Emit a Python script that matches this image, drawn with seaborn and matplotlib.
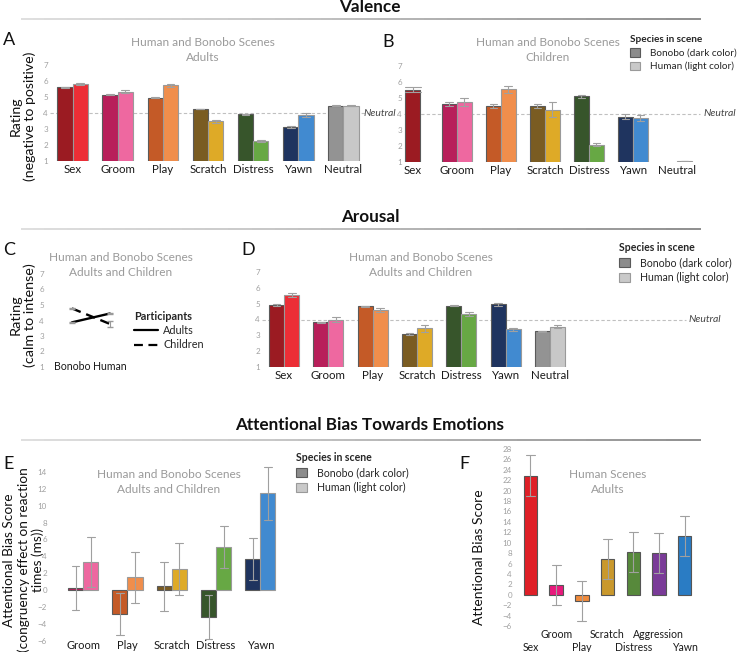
import numpy as np
import pandas as pd
import matplotlib
matplotlib.use("Agg")
import matplotlib.pyplot as plt
import seaborn as sns
from matplotlib.patches import Patch
from matplotlib.lines import Line2D
from matplotlib.collections import LineCollection

nan = np.nan
# ---------------- data ----------------
categories = ['Sex', 'Groom', 'Play', 'Scratch', 'Distress', 'Yawn', 'Neutral']
species = ['Bonobo', 'Human']

# A: valence, adults
val_ad_bonobo = [5.61, 5.15, 4.96, 4.25, 3.93, 3.12, 4.46]
val_ad_human = [5.80, 5.32, 5.74, 3.49, 2.25, 3.88, 4.46]
val_ad_bonobo_err = [0.03, 0.03, 0.03, 0.03, 0.03, 0.05, 0.02]
val_ad_human_err = [0.08, 0.10, 0.10, 0.10, 0.04, 0.10, 0.02]

# B: valence, children
val_ch_bonobo = [5.52, 4.63, 4.48, 4.52, 5.10, 3.82, nan]
val_ch_human = [nan, 4.74, 5.56, 4.28, 2.09, 3.74, 1.07]
val_ch_bonobo_err = [0.15, 0.12, 0.12, 0.12, 0.10, 0.15, 0.0]
val_ch_human_err = [0.0, 0.25, 0.22, 0.45, 0.12, 0.20, 0.0]

# C: arousal by participants
scene_species = ['Bonobo', 'Human']
participants = ['Adults', 'Children']
aro_adults = [3.88, 4.45]
aro_children = [4.78, 3.78]
aro_adults_err = [0.03, 0.06]
aro_children_err = [0.05, 0.22]

# D: arousal, adults and children
aro_bonobo = [4.90, 3.82, 4.83, 3.07, 4.87, 4.95, 3.25]
aro_human = [5.53, 4.00, 4.62, 3.46, 4.33, 3.37, 3.55]
aro_bonobo_err = [0.07, 0.05, 0.05, 0.05, 0.04, 0.10, 0.04]
aro_human_err = [0.14, 0.15, 0.12, 0.22, 0.12, 0.10, 0.08]

# E: attentional bias, human and bonobo scenes
att_categories = ['Groom', 'Play', 'Scratch', 'Distress', 'Yawn']
att_bonobo = [0.24, -2.85, 0.47, -3.16, 3.70]
att_human = [3.31, 1.50, 2.53, 5.14, 11.46]
att_bonobo_err = [2.6, 2.5, 2.9, 2.6, 2.5]
att_human_err = [3.0, 3.0, 3.1, 2.5, 3.1]

# F: attentional bias, human scenes
f_categories = ['Sex', 'Groom', 'Play', 'Scratch', 'Distress', 'Aggression', 'Yawn']
f_values = [22.9, 1.86, -1.15, 6.86, 8.2, 8.0, 11.3]
f_err = [4.0, 3.8, 3.8, 3.9, 3.9, 3.9, 3.9]

# ---------------- style ----------------
dark_colors = ['#9b1b22', '#b81f5a', '#c45a27', '#7a5c22', '#37552b', '#1f345f', '#939393']
light_colors = ['#ec2e36', '#ee68a0', '#f08e4c', '#deaa27', '#67a844', '#418ad0', '#c8c8c8']
att_dark = dark_colors[1:6]
att_light = light_colors[1:6]
f_colors = ['#df1f27', '#e8197c', '#f08a3c', '#c9982c', '#57893b', '#7a3b98', '#2a7cc4']

W, H = 739, 652
sns.set_theme(style='white')
plt.rcParams['font.family'] = ['Lato', 'DejaVu Sans']

fig = plt.figure(figsize=(W / 100, H / 100), dpi=100)

GRAY_T = '#9a9a9a'
ERR = dict(color='#a0a0a0', linewidth=0.8)


def add_ax(l, t, r, b):
    return fig.add_axes([l / W, 1 - b / H, (r - l) / W, (b - t) / H])


def long_df(cats, groups):
    rows = []
    for g, (vals, errs) in groups.items():
        for c, v, e in zip(cats, vals, errs):
            if np.isnan(v):
                continue
            rows.append((c, g, v - e))
            rows.append((c, g, v + e))
    return pd.DataFrame(rows, columns=['category', 'species', 'value'])


def recolor(container, dark, edge):
    for bar in container:
        idx = int(round(bar.get_x() + bar.get_width() / 2))
        bar.set_facecolor(dark[idx])
        bar.set_edgecolor(edge)
        bar.set_linewidth(0.8)


def style_ax(ax, yticks, labsize=8.3, pad=2.5):
    sns.despine(ax=ax, left=True, bottom=True)
    ax.set_yticks(yticks)
    ax.tick_params(axis='y', length=0, labelsize=5.8, labelcolor='#a0a0a0', pad=1.5)
    ax.tick_params(axis='x', which='both', length=0, labelsize=labsize,
                   labelcolor='#1a1a1a', pad=pad)
    ax.set_xlabel('')
    ax.set_ylabel('')
    ax.patch.set_alpha(0)


def pair_bars(ax, cats, bon, bon_e, hum, hum_e, dark, light, width=0.68):
    df = long_df(cats, {'Bonobo': (bon, bon_e), 'Human': (hum, hum_e)})
    sns.barplot(data=df, x='category', y='value', hue='species', order=cats,
                hue_order=species, errorbar=('pi', 100), width=width,
                capsize=0.35, err_kws=ERR, legend=False, saturation=1, ax=ax)
    recolor(ax.containers[0], dark, '#5a5a5a')
    recolor(ax.containers[1], light, '#9a9a9a')


def py(ax, v):
    """pixel y (from top) of data value v on ax"""
    return H - ax.transData.transform((0, v))[1]


def neutral(ax, x_end_px, label_x=None, ha='left'):
    l = ax.get_position().x0 * W
    r = ax.get_position().x1 * W
    ax.axhline(4, xmin=0, xmax=(x_end_px - l) / (r - l), ls=(0, (3, 2)),
               color='#c0c0c0', lw=0.8, clip_on=False, zorder=0)
    if label_x is not None:
        fig.text(label_x / W, 1 - py(ax, 4) / H, 'Neutral', ha=ha, va='center',
                 style='italic', fontsize=7.5, color='#444444')


def title(x, y, s):
    fig.text(x / W, 1 - y / H, s, ha='center', va='center', fontsize=8.6,
             color=GRAY_T, linespacing=1.35)


def species_legend(x, y, size=7.6):
    handles = [Patch(facecolor='#8c8c8c', edgecolor='#5a5a5a', lw=0.8),
               Patch(facecolor='#c9c9c9', edgecolor='#9a9a9a', lw=0.8)]
    fig.legend(handles, ['Bonobo (dark color)', 'Human (light color)'],
               title='Species in scene', loc='upper left',
               bbox_to_anchor=(x / W, 1 - y / H), frameon=False, fontsize=size,
               title_fontproperties={'weight': 'bold', 'size': size},
               alignment='left', handlelength=1.0, handleheight=1.0,
               handletextpad=1.0, labelspacing=0.38, borderpad=0, borderaxespad=0)


def section(y_text, y_line, s):
    fig.text(370 / W, 1 - y_text / H, s, ha='center', va='center', fontsize=12.3,
             fontweight='bold', color='#111111')
    xs = np.linspace(21, 701, 60)
    segs = [[(xs[i] / W, 1 - y_line / H), (xs[i + 1] / W, 1 - y_line / H)] for i in range(len(xs) - 1)]
    cols = [plt.cm.Greys(0.25 + 0.35 * i / len(segs)) for i in range(len(segs))]
    fig.add_artist(LineCollection(segs, colors=cols, linewidths=1.2, transform=fig.transFigure))


def panel_label(x, y, s):
    fig.text(x / W, 1 - y / H, s, ha='left', va='center', fontsize=13, color='#111111')


def ylab(x, y, s, size=10.4, ls=1.15):
    fig.text(x / W, 1 - y / H, s, ha='center', va='center', rotation=90,
             fontsize=size, color='#111111', linespacing=ls)


# ---------------- sections ----------------
section(7, 19, 'Valence')
section(217, 229, 'Arousal')
section(425, 440, 'Attentional Bias Towards Emotions')

# ---------------- A ----------------
axA = add_ax(50, 65, 366, 161)
pair_bars(axA, categories, val_ad_bonobo, val_ad_bonobo_err, val_ad_human,
          val_ad_human_err, dark_colors, light_colors)
axA.set_xlim(-0.5, 6.5)
axA.set_ylim(1, 7)
style_ax(axA, range(1, 8))
neutral(axA, 368)
panel_label(3, 40, 'A')
title(203, 50, 'Human and Bonobo Scenes\nAdults')
ylab(23, 116, 'Rating\n(negative to positive)', size=10.2)

# ---------------- B ----------------
axB = add_ax(404, 66, 699, 162)
bon_b = [nan] + val_ch_bonobo[1:]
pair_bars(axB, categories, bon_b, val_ch_bonobo_err, val_ch_human,
          val_ch_human_err, dark_colors, light_colors)
single = long_df(categories, {'Bonobo': ([val_ch_bonobo[0]] + [nan] * 6,
                                         val_ch_bonobo_err)})
sns.barplot(data=single, x='category', y='value', order=categories,
            errorbar=('pi', 100), width=0.34, capsize=0.35, err_kws=ERR,
            saturation=1, ax=axB)
recolor(axB.containers[-1], dark_colors, '#5a5a5a')
axB.set_xlim(-0.2, 6.5)
axB.set_ylim(1, 7)
style_ax(axB, range(1, 8))
neutral(axB, 700, label_x=703, ha='left')
fig.text(396 / W, 1 - py(axB, 4) / H, 'Neutral', ha='right', va='center',
         style='italic', fontsize=7.5, color='#444444')
panel_label(382, 42, 'B')
title(548, 50, 'Human and Bonobo Scenes\nChildren')
species_legend(630, 35, size=7.2)

# ---------------- C ----------------
axC = add_ax(46, 274, 125, 367)
dfC = long_df(scene_species, {'Adults': (aro_adults, aro_adults_err),
                              'Children': (aro_children, aro_children_err)})
dfC = dfC.rename(columns={'species': 'participants', 'category': 'scene'})
sns.lineplot(data=dfC, x='scene', y='value', style='participants',
             style_order=participants, color='black',
             dashes={'Adults': '', 'Children': (4, 2.5)}, markers=False,
             errorbar=('pi', 100), err_style='bars',
             err_kws={'capsize': 2, 'ecolor': '#9a9a9a', 'elinewidth': 0.8},
             linewidth=1.7, legend=False, ax=axC)
axC.set_xlim(-0.684, 1.4)
axC.set_ylim(1, 7)
style_ax(axC, range(1, 8), labsize=7.6, pad=-4.5)
axC.legend([Line2D([], [], color='black', lw=1.6),
            Line2D([], [], color='black', lw=1.6, dashes=(4, 2.5))],
           participants, title='Participants', loc='upper left',
           bbox_to_anchor=(134 / W, 1 - 311 / H), bbox_transform=fig.transFigure,
           frameon=False, fontsize=7.8,
           title_fontproperties={'weight': 'bold', 'size': 7.8},
           alignment='left', handlelength=2.2, handletextpad=0.5,
           labelspacing=0.3, borderpad=0, borderaxespad=0)
panel_label(3, 250, 'C')
title(121, 265, 'Human and Bonobo Scenes\nAdults and Children')
ylab(23, 315, 'Rating\n(calm to intense)')

# ---------------- D ----------------
axD = add_ax(262, 272, 572, 367)
pair_bars(axD, categories, aro_bonobo, aro_bonobo_err, aro_human, aro_human_err,
          dark_colors, light_colors)
axD.set_xlim(-0.5, 6.5)
axD.set_ylim(1, 7)
style_ax(axD, range(1, 8))
neutral(axD, 686, label_x=688, ha='left')
panel_label(241, 250, 'D')
title(421, 265, 'Human and Bonobo Scenes\nAdults and Children')
species_legend(619, 242)

# ---------------- E ----------------
axE = add_ax(49, 463.6, 287, 640.6)
pair_bars(axE, att_categories, att_bonobo, att_bonobo_err, att_human,
          att_human_err, att_dark, att_light)
axE.set_xlim(-0.77, 4.6)
axE.set_ylim(-6, 15)
style_ax(axE, range(-6, 15, 2), labsize=8, pad=-0.5)
panel_label(3, 464, 'E')
title(169, 482, 'Human and Bonobo Scenes\nAdults and Children')
for xl, line in zip([9, 23.5, 37.5], ['Attentional Bias Score',
                                      '(congruency effect on reaction',
                                      'times (ms))']):
    ylab(xl, 560, line, size=9.8)
species_legend(296, 452)

# ---------------- F ----------------
axF = add_ax(514, 449, 700, 626)
dfF = long_df(f_categories, {'Human': (f_values, f_err)})
sns.barplot(data=dfF, x='category', y='value', hue='category', order=f_categories,
            hue_order=f_categories, palette=f_colors, errorbar=('pi', 100),
            width=0.52, capsize=0.35, err_kws=ERR, saturation=1, legend=False,
            edgecolor='#555555', linewidth=0.8, ax=axF)
axF.set_xlim(-0.64, 6.6)
axF.set_ylim(-6, 28)
style_ax(axF, range(-6, 29, 2), labsize=7.6, pad=2.0)
lower = list(range(0, len(f_categories), 2))
upper = list(range(1, len(f_categories), 2))
axF.set_xticks(lower, labels=[f_categories[i] for i in lower])
axF.set_xticks(upper, labels=[f_categories[i] for i in upper], minor=True)
axF.tick_params(axis='x', which='major', pad=11.5)
axF.tick_params(axis='x', which='minor', pad=2.0)
panel_label(459, 464, 'F')
title(608, 482, 'Human Scenes\nAdults')
ylab(479, 557, 'Attentional Bias Score', size=10)

fig.savefig('out.png', dpi=100)
